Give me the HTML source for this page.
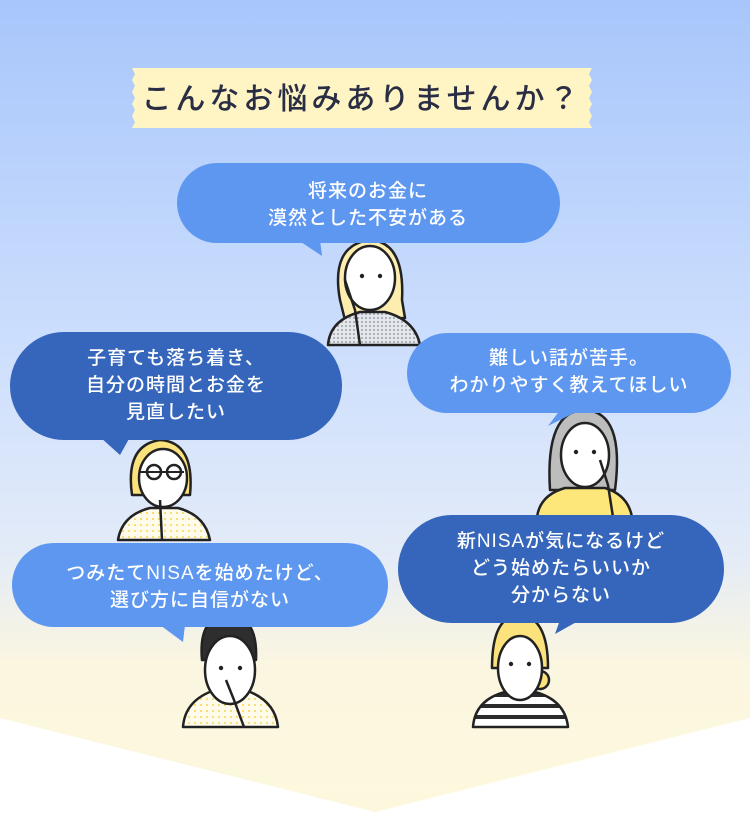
<!DOCTYPE html>
<html><head><meta charset="utf-8"><style>
html,body{margin:0;padding:0;background:#fff;}
body{width:750px;height:812px;overflow:hidden;font-family:"Liberation Sans","Noto Sans CJK JP",sans-serif;}
svg text{font-family:"Liberation Sans","Noto Sans CJK JP",sans-serif;}
</style></head><body>
<svg width="750" height="812" viewBox="0 0 750 812" xmlns="http://www.w3.org/2000/svg">
<defs>
<linearGradient id="bg" x1="0" y1="0" x2="0" y2="1">
<stop offset="0" stop-color="#a8c6fb"/>
<stop offset="0.45" stop-color="#cfe0fd"/>
<stop offset="0.68" stop-color="#e3ebf8"/>
<stop offset="0.82" stop-color="#fbf6e0"/>
<stop offset="1" stop-color="#fdf8dd"/>
</linearGradient>
<pattern id="dotg" width="4" height="4" patternUnits="userSpaceOnUse"><rect width="4" height="4" fill="#e4e7ec"/><circle cx="2" cy="2" r="1" fill="#9aa0aa"/></pattern>
<pattern id="doty" width="6" height="6" patternUnits="userSpaceOnUse"><rect width="6" height="6" fill="#fffbea"/><circle cx="3" cy="3" r="1.1" fill="#f5dc6e"/></pattern>
<pattern id="stripe" width="10" height="11" patternUnits="userSpaceOnUse"><rect width="10" height="11" fill="#fff"/><rect y="0" width="10" height="4" fill="#2b2b2b"/></pattern>
</defs>
<path d="M0 0 H750 V718 L375 812 L0 718 Z" fill="url(#bg)"/>
<!-- title -->
<path d="M132 68 H592 l-3 6 3 6 -3 6 3 6 -3 6 3 6 -3 6 3 6 -3 6 3 6 V128 H132 l3 -6 -3 -6 3 -6 -3 -6 3 -6 -3 -6 3 -6 -3 -6 3 -6 -3 -6 Z" fill="#fff4c4"/>
<text x="362" y="109" text-anchor="middle" font-size="30" font-weight="500" fill="#2a2e44" letter-spacing="4">こんなお悩みありませんか？</text>

<g stroke="#222" stroke-width="2.5" stroke-linejoin="round" stroke-linecap="round">
<!-- person 1 -->
<path d="M340 300 Q330 245 370 240 Q405 242 402 300 L405 318 L345 320 Z" fill="#fdeeb0"/>
<path d="M328 345 Q330 320 360 312 L385 312 Q415 320 420 345 Z" fill="url(#dotg)"/>
<ellipse cx="370" cy="278" rx="25" ry="32" fill="#fff"/>
<path d="M345 280 l10 30 l5 35" fill="none"/>
</g>
<!-- person 2 -->
<g stroke="#222" stroke-width="2.5" stroke-linejoin="round">
<path d="M132 495 Q125 445 160 440 Q195 442 190 495 Z" fill="#fbe27c"/>
<path d="M118 540 Q122 515 150 508 L178 508 Q205 515 210 540 Z" fill="url(#doty)"/>
<ellipse cx="163" cy="478" rx="24" ry="29" fill="#fff"/>
<path d="M140 472 h44" stroke-width="2"/><circle cx="154" cy="472" r="7" fill="none"/><circle cx="174" cy="472" r="7" fill="none"/>
<path d="M160 500 l2 40" fill="none"/>
</g>
<!-- person 3 -->
<g stroke="#222" stroke-width="2.5" stroke-linejoin="round">
<path d="M550 490 Q545 410 585 410 Q625 412 615 490 Z" fill="#bdbdbd"/>
<path d="M537 517 Q540 495 565 488 L605 488 Q628 495 632 517 Z" fill="#fde77a"/>
<ellipse cx="585" cy="455" rx="24" ry="32" fill="#fff"/>
<path d="M600 460 l8 25 l5 32" fill="none"/>
</g>
<!-- person 4 -->
<g stroke="#222" stroke-width="2.5" stroke-linejoin="round">
<path d="M202 660 Q198 615 230 615 Q258 617 256 660 Z" fill="#2e2e2e"/>
<path d="M183 727 Q185 700 215 690 L245 690 Q275 700 278 727 Z" fill="url(#doty)"/>
<ellipse cx="230" cy="670" rx="25" ry="34" fill="#fff"/>
<path d="M226 680 l8 20 l10 27" fill="#fff"/>
</g>
<!-- person 5 -->
<g stroke="#222" stroke-width="2.5" stroke-linejoin="round">
<path d="M492 668 Q492 615 520 615 Q548 617 548 668 Z" fill="#fbe27c"/>
<circle cx="540" cy="680" r="9" fill="#fbe27c"/>
<path d="M473 727 Q475 700 505 692 L535 692 Q565 700 568 727 Z" fill="url(#stripe)"/>
<ellipse cx="520" cy="668" rx="22" ry="32" fill="#fff"/>
</g>
<!-- eyes -->
<g fill="#222">
<circle cx="362" cy="276" r="2.2"/><circle cx="380" cy="276" r="2.2"/>
<circle cx="576" cy="452" r="2.2"/><circle cx="594" cy="452" r="2.2"/>
<circle cx="221" cy="668" r="2.2"/><circle cx="240" cy="668" r="2.2"/>
<circle cx="511" cy="664" r="2.2"/><circle cx="529" cy="664" r="2.2"/>
</g>

<!-- bubbles -->
<g fill="#5e97f0">
<rect x="177" y="163" width="383" height="80" rx="40"/><path d="M298 240 L322 256 L320 240 Z"/>
<rect x="407" y="333" width="324" height="80" rx="40"/><path d="M560 410 L548 426 L580 410 Z"/>
<rect x="12" y="543" width="376" height="84" rx="42"/><path d="M160 625 L183 642 L185 625 Z"/>
</g>
<g fill="#3566bc">
<rect x="10" y="332" width="332" height="108" rx="54"/><path d="M100 437 L120 455 L130 437 Z"/>
<rect x="398" y="515" width="326" height="108" rx="54"/><path d="M560 620 L555 634 L580 620 Z"/>
</g>
<g fill="#fff" font-size="19" font-weight="500" text-anchor="middle" letter-spacing="1">
<text x="368" y="197">将来のお金に</text>
<text x="368" y="224">漠然とした不安がある</text>
<text x="176" y="364">子育ても落ち着き、</text>
<text x="176" y="391">自分の時間とお金を</text>
<text x="176" y="418">見直したい</text>
<text x="569" y="364">難しい話が苦手。</text>
<text x="569" y="391">わかりやすく教えてほしい</text>
<text x="200" y="579">つみたてNISAを始めたけど、</text>
<text x="200" y="606">選び方に自信がない</text>
<text x="561" y="547">新NISAが気になるけど</text>
<text x="561" y="574">どう始めたらいいか</text>
<text x="561" y="601">分からない</text>
</g>
</svg>
</body></html>
